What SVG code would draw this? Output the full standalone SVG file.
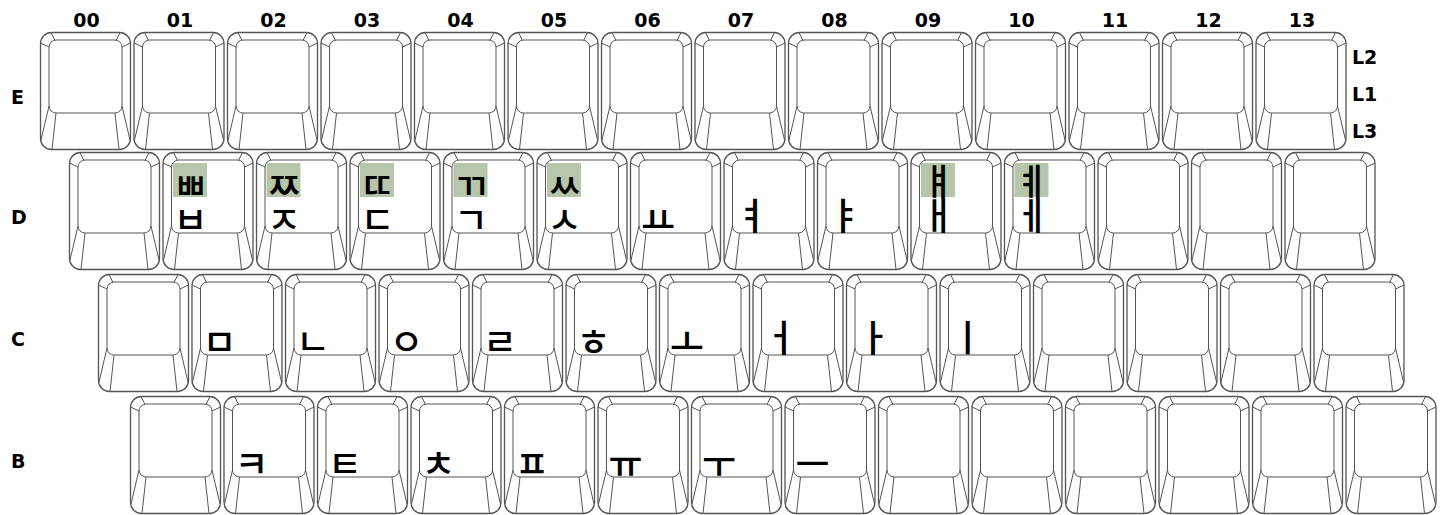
<svg xmlns="http://www.w3.org/2000/svg" xmlns:xlink="http://www.w3.org/1999/xlink" width="1444" height="515" viewBox="0 0 1444 515">
<style>
.lbl{font-family:"DejaVu Sans","Liberation Sans",sans-serif;font-weight:bold;font-size:19px;fill:#000}
.cl{text-anchor:middle}
.g{font-family:"Noto Sans CJK KR",sans-serif;font-weight:500;font-size:37px;fill:#000;text-anchor:middle}
.hl{fill:#b7c6aa}
.ko{fill:#fff;stroke:#555;stroke-width:1.3}
.ki{fill:none;stroke:#555;stroke-width:1}
</style>
<defs>
<g id="keycap">
<rect class="ko" x="0.5" y="0.5" width="90" height="117" rx="11"/>
<rect class="ki" x="9" y="8" width="73" height="73" rx="7"/>
<path class="ki" d="M11,0.5L15,8.5M0.5,11L9,15M80,0.5L76,8.5M90.5,11L82,15M9,74L1,108M16,81L12,117.5M82,74L90,108M75,81L79,117.5"/>
</g>
</defs>
<g id="column-labels" class="lbl cl">
<text x="86.5" y="27">00</text><text x="180" y="27">01</text><text x="273.5" y="27">02</text><text x="367" y="27">03</text><text x="460.5" y="27">04</text><text x="554" y="27">05</text><text x="647.5" y="27">06</text><text x="741" y="27">07</text><text x="834.5" y="27">08</text><text x="928" y="27">09</text><text x="1021.5" y="27">10</text><text x="1115" y="27">11</text><text x="1208.5" y="27">12</text><text x="1302" y="27">13</text>
</g>
<g id="row-labels" class="lbl">
<text x="11" y="104">E</text><text x="11" y="224">D</text><text x="11" y="346">C</text><text x="11" y="468">B</text>
</g>
<g id="level-labels" class="lbl">
<text x="1352" y="64">L2</text><text x="1352" y="101">L1</text><text x="1352" y="138">L3</text>
</g>
<g id="row-E">
<g id="E00" transform="translate(40,32)"><use xlink:href="#keycap"/></g>
<g id="E01" transform="translate(133.5,32)"><use xlink:href="#keycap"/></g>
<g id="E02" transform="translate(227,32)"><use xlink:href="#keycap"/></g>
<g id="E03" transform="translate(320.5,32)"><use xlink:href="#keycap"/></g>
<g id="E04" transform="translate(414,32)"><use xlink:href="#keycap"/></g>
<g id="E05" transform="translate(507.5,32)"><use xlink:href="#keycap"/></g>
<g id="E06" transform="translate(601,32)"><use xlink:href="#keycap"/></g>
<g id="E07" transform="translate(694.5,32)"><use xlink:href="#keycap"/></g>
<g id="E08" transform="translate(788,32)"><use xlink:href="#keycap"/></g>
<g id="E09" transform="translate(881.5,32)"><use xlink:href="#keycap"/></g>
<g id="E10" transform="translate(975,32)"><use xlink:href="#keycap"/></g>
<g id="E11" transform="translate(1068.5,32)"><use xlink:href="#keycap"/></g>
<g id="E12" transform="translate(1162,32)"><use xlink:href="#keycap"/></g>
<g id="E13" transform="translate(1255.5,32)"><use xlink:href="#keycap"/></g>
</g>
<g id="row-D">
<g id="D00" transform="translate(69,152)"><use xlink:href="#keycap"/></g>
<g id="D01" transform="translate(162.5,152)"><use xlink:href="#keycap"/><rect class="hl" x="10.5" y="11" width="34" height="34"/><text class="g" x="28" y="48">ㅃ</text><text class="g" x="28" y="82">ㅂ</text></g>
<g id="D02" transform="translate(256,152)"><use xlink:href="#keycap"/><rect class="hl" x="10.5" y="11" width="34" height="34"/><text class="g" x="28" y="48">ㅉ</text><text class="g" x="28" y="82">ㅈ</text></g>
<g id="D03" transform="translate(349.5,152)"><use xlink:href="#keycap"/><rect class="hl" x="10.5" y="11" width="34" height="34"/><text class="g" x="28" y="48">ㄸ</text><text class="g" x="28" y="82">ㄷ</text></g>
<g id="D04" transform="translate(443,152)"><use xlink:href="#keycap"/><rect class="hl" x="10.5" y="11" width="34" height="34"/><text class="g" x="28" y="48">ㄲ</text><text class="g" x="28" y="82">ㄱ</text></g>
<g id="D05" transform="translate(536.5,152)"><use xlink:href="#keycap"/><rect class="hl" x="10.5" y="11" width="34" height="34"/><text class="g" x="28" y="48">ㅆ</text><text class="g" x="28" y="82">ㅅ</text></g>
<g id="D06" transform="translate(630,152)"><use xlink:href="#keycap"/><text class="g" x="28" y="82">ㅛ</text></g>
<g id="D07" transform="translate(723.5,152)"><use xlink:href="#keycap"/><text class="g" x="28" y="78">ㅕ</text></g>
<g id="D08" transform="translate(817,152)"><use xlink:href="#keycap"/><text class="g" x="28" y="78">ㅑ</text></g>
<g id="D09" transform="translate(910.5,152)"><use xlink:href="#keycap"/><rect class="hl" x="10.5" y="11" width="34" height="34"/><text class="g" x="28" y="44">ㅒ</text><text class="g" x="28" y="78">ㅐ</text></g>
<g id="D10" transform="translate(1004,152)"><use xlink:href="#keycap"/><rect class="hl" x="10.5" y="11" width="34" height="34"/><text class="g" x="28" y="44">ㅖ</text><text class="g" x="28" y="78">ㅔ</text></g>
<g id="D11" transform="translate(1097.5,152)"><use xlink:href="#keycap"/></g>
<g id="D12" transform="translate(1191,152)"><use xlink:href="#keycap"/></g>
<g id="D13" transform="translate(1284.5,152)"><use xlink:href="#keycap"/></g>
</g>
<g id="row-C">
<g id="C00" transform="translate(98,274)"><use xlink:href="#keycap"/></g>
<g id="C01" transform="translate(191.5,274)"><use xlink:href="#keycap"/><text class="g" x="28" y="82">ㅁ</text></g>
<g id="C02" transform="translate(285,274)"><use xlink:href="#keycap"/><text class="g" x="28" y="82">ㄴ</text></g>
<g id="C03" transform="translate(378.5,274)"><use xlink:href="#keycap"/><text class="g" x="28" y="82">ㅇ</text></g>
<g id="C04" transform="translate(472,274)"><use xlink:href="#keycap"/><text class="g" x="28" y="82">ㄹ</text></g>
<g id="C05" transform="translate(565.5,274)"><use xlink:href="#keycap"/><text class="g" x="28" y="82">ㅎ</text></g>
<g id="C06" transform="translate(659,274)"><use xlink:href="#keycap"/><text class="g" x="28" y="82">ㅗ</text></g>
<g id="C07" transform="translate(752.5,274)"><use xlink:href="#keycap"/><text class="g" x="28" y="78">ㅓ</text></g>
<g id="C08" transform="translate(846,274)"><use xlink:href="#keycap"/><text class="g" x="28" y="78">ㅏ</text></g>
<g id="C09" transform="translate(939.5,274)"><use xlink:href="#keycap"/><text class="g" x="28" y="78">ㅣ</text></g>
<g id="C10" transform="translate(1033,274)"><use xlink:href="#keycap"/></g>
<g id="C11" transform="translate(1126.5,274)"><use xlink:href="#keycap"/></g>
<g id="C12" transform="translate(1220,274)"><use xlink:href="#keycap"/></g>
<g id="C13" transform="translate(1313.5,274)"><use xlink:href="#keycap"/></g>
</g>
<g id="row-B">
<g id="B00" transform="translate(130,396)"><use xlink:href="#keycap"/></g>
<g id="B01" transform="translate(223.5,396)"><use xlink:href="#keycap"/><text class="g" x="28" y="82">ㅋ</text></g>
<g id="B02" transform="translate(317,396)"><use xlink:href="#keycap"/><text class="g" x="28" y="82">ㅌ</text></g>
<g id="B03" transform="translate(410.5,396)"><use xlink:href="#keycap"/><text class="g" x="28" y="82">ㅊ</text></g>
<g id="B04" transform="translate(504,396)"><use xlink:href="#keycap"/><text class="g" x="28" y="82">ㅍ</text></g>
<g id="B05" transform="translate(597.5,396)"><use xlink:href="#keycap"/><text class="g" x="28" y="82">ㅠ</text></g>
<g id="B06" transform="translate(691,396)"><use xlink:href="#keycap"/><text class="g" x="28" y="82">ㅜ</text></g>
<g id="B07" transform="translate(784.5,396)"><use xlink:href="#keycap"/><text class="g" x="28" y="82">ㅡ</text></g>
<g id="B08" transform="translate(878,396)"><use xlink:href="#keycap"/></g>
<g id="B09" transform="translate(971.5,396)"><use xlink:href="#keycap"/></g>
<g id="B10" transform="translate(1065,396)"><use xlink:href="#keycap"/></g>
<g id="B11" transform="translate(1158.5,396)"><use xlink:href="#keycap"/></g>
<g id="B12" transform="translate(1252,396)"><use xlink:href="#keycap"/></g>
<g id="B13" transform="translate(1345.5,396)"><use xlink:href="#keycap"/></g>
</g>
</svg>
